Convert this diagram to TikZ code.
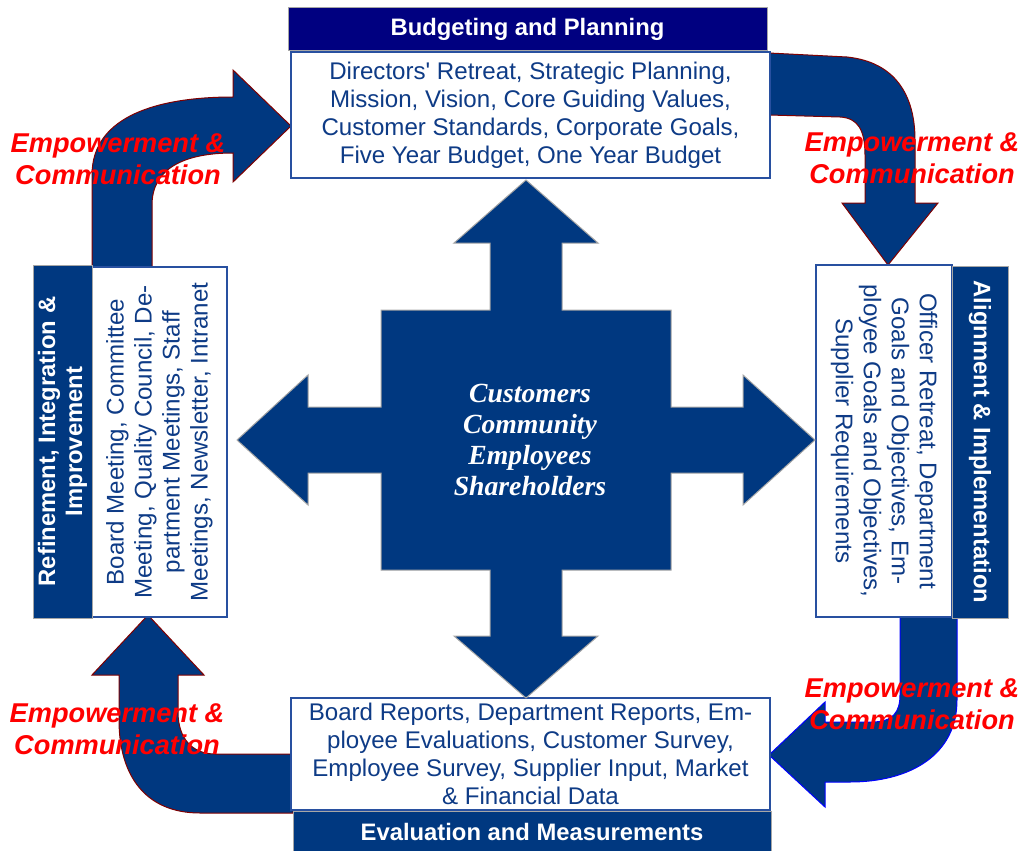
\documentclass[tikz,border=0pt]{standalone}
\usepackage{fontspec}
\setmainfont{Liberation Sans}
\newfontfamily\hubfont{Liberation Serif}
\usetikzlibrary{positioning}
\definecolor{hdrnavy}{RGB}{0,0,128}
\definecolor{hdrblue}{RGB}{0,56,128}
\definecolor{bodytext}{RGB}{14,59,134}
\definecolor{bodyline}{RGB}{40,80,160}
\definecolor{arrowred}{RGB}{128,0,0}

\begin{document}
\begin{tikzpicture}[x=1pt, y=-1pt,
    turnarrow/.style={fill=hdrblue, draw=arrowred, line width=1pt, line join=miter},
    hubcross/.style={fill=hdrblue, draw=gray!70, line width=1pt},
    empower/.style={text=red, align=center, font=\bfseries\itshape\fontsize{27.2}{32}\selectfont}]
    % Define styles for the boxes, their headers and the hub text
    \tikzstyle{body} = [draw=bodyline, line width=1.2pt, fill=white, text=bodytext, align=center, inner sep=0pt, font=\fontsize{24.1}{28}\selectfont]
    \tikzstyle{header} = [draw=gray!70, line width=1pt, fill=hdrblue, text=white, align=center, inner sep=0pt, font=\bfseries\fontsize{23.8}{27}\selectfont]
    \tikzstyle{hubtext} = [text=white, align=center, font=\hubfont\bfseries\itshape\fontsize{27.7}{31.3}\selectfont]

    \useasboundingbox (0,0) rectangle (1020,851);

    % Curved arrows between the stages
    \draw[turnarrow] (92,267) -- (92,175) .. controls (92,115) and (160,97) .. (233,97)
        -- (233,70) -- (291,126) -- (233,182) -- (233,153)
        .. controls (185,153) and (152,168) .. (152,205) -- (152,267) -- cycle;
    \draw[turnarrow] (769,53) -- (847,57) .. controls (895,62) and (915,95) .. (915,140)
        -- (915,203) -- (938,203) -- (888,265) -- (842,203) -- (865,203) -- (865,155)
        .. controls (865,130) and (858,118) .. (840,117) -- (769,115) -- cycle;
    \draw[turnarrow, draw=blue] (900,617) -- (957,617) -- (957,700)
        .. controls (957,755) and (910,782) .. (850,782) -- (825,782) -- (825,807)
        -- (769,755) -- (825,702) -- (825,722) -- (872,722)
        .. controls (893,722) and (900,712) .. (900,695) -- cycle;
    \draw[turnarrow] (293,813) -- (200,813) .. controls (145,813) and (119,775) .. (119,720)
        -- (119,675) -- (92,675) -- (148,615) -- (204,675) -- (178,675) -- (178,712)
        .. controls (178,738) and (192,754) .. (215,754) -- (293,754) -- cycle;

    % Stage boxes
    \node[body, minimum width=479, minimum height=126] (plan) at (530.5,115)
        {Directors\textquotesingle{} Retreat, Strategic Planning,\\Mission, Vision, Core Guiding Values,\\Customer Standards, Corporate Goals,\\Five Year Budget, One Year Budget};
    \node[header, fill=hdrnavy, minimum width=479, minimum height=43, above=0pt of plan, xshift=-3] (planhdr) {Budgeting and Planning};

    \node[body, rotate=-90, minimum width=352, minimum height=136] (align) at (884,441)
        {Officer Retreat, Department\\Goals and Objectives, Em-\\ployee Goals and Objectives,\\Supplier Requirements};
    \node[header, rotate=-90, minimum width=352, minimum height=56] (alignhdr) at (980,442) {Alignment \& Implementation};

    \node[body, minimum width=479, minimum height=112] (eval) at (530.5,754)
        {Board Reports, Department Reports, Em-\\ployee Evaluations, Customer Survey,\\Employee Survey, Supplier Input, Market\\\& Financial Data};
    \node[header, minimum width=478, minimum height=41, below=0pt of eval, xshift=1.5] (evalhdr) {Evaluation and Measurements};

    \node[body, rotate=90, minimum width=350, minimum height=135] (refine) at (159.5,442)
        {Board Meeting, Committee\\Meeting, Quality Council, De-\\partment Meetings, Staff\\Meetings, Newsletter, Intranet};
    \node[header, rotate=90, minimum width=353, minimum height=59] (refinehdr) at (62.5,441.5) {Refinement, Integration \&\\Improvement};

    % Central cross with the stakeholders
    \draw[hubcross] (526,180) -- (598,243) -- (562,243) -- (562,310) -- (671,310) -- (671,407)
        -- (743,407) -- (743,375) -- (815,440) -- (743,505) -- (743,473) -- (671,473)
        -- (671,570) -- (562,570) -- (562,636) -- (598,636) -- (526,698) -- (454,636)
        -- (490,636) -- (490,570) -- (381,570) -- (381,473) -- (308,473) -- (308,505)
        -- (237,440) -- (308,375) -- (308,407) -- (381,407) -- (381,310) -- (490,310)
        -- (490,243) -- (454,243) -- cycle;
    \node[hubtext] (hub) at (530,440) {Customers\\Community\\Employees\\Shareholders};

    % Labels on the curved arrows
    \node[empower] (emptl) at (118,159) {Empowerment \&\\Communication};
    \node[empower] (emptr) at (912,158) {Empowerment \&\\Communication};
    \node[empower] (empbr) at (912,704) {Empowerment \&\\Communication};
    \node[empower] (empbl) at (117,729) {Empowerment \&\\Communication};
\end{tikzpicture}
\end{document}
